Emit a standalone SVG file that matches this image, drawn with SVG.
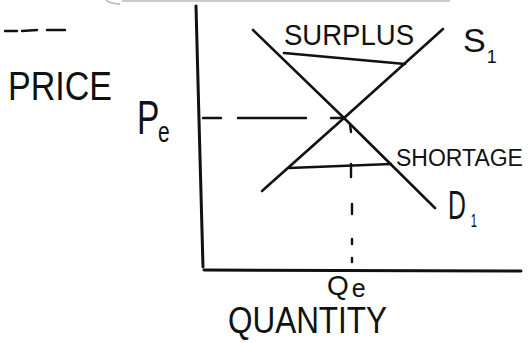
<svg xmlns="http://www.w3.org/2000/svg" width="532" height="343" viewBox="0 0 532 343">
  <style>
    .ln { stroke: #111; stroke-width: 2.6; fill: none; stroke-linecap: round; }
    .ax { stroke: #111; stroke-width: 3; fill: none; stroke-linecap: round; }
    .ds { stroke: #111; stroke-width: 2.4; fill: none; stroke-linecap: round; }
    .faint { stroke: #bbb; stroke-width: 1.5; fill: none; }
    .lbl { font-family: "Liberation Sans", "DejaVu Sans", sans-serif; fill: #111; }
  </style>
  <rect width="532" height="343" fill="#fff"/>
  <path class="faint" d="M120 4 Q108 3 106 0 M122 1 L450 1"/>
  <g id="axes">
    <path class="ax" d="M196 6 L199 120 L203 267"/>
    <path class="ax" d="M204 270 L521 271"/>
  </g>
  <g id="connectors">
    <path class="ln" d="M253 30 L344 118 L435 208"/>
    <path class="ln" d="M443 29 L344 118 L262 191"/>
    <path class="ln" d="M284 53 L405 64"/>
    <path class="ln" d="M289 168 L391 164"/>
    <path class="ds" d="M203 118 L221 118 M238 118 L306 118 M331 118 L342 118"/>
    <path class="ds" d="M350 124 L351 132 M351 164 L351 177 M352 204 L352 214 M352 239 L352 244 M352 258 L352 262"/>
    <path class="ds" d="M5 31 L17 31 M22 31 L37 30 M47 30 L65 30"/>
  </g>
  <g id="surplus">
    <text class="lbl" x="284" y="45" font-size="30" textLength="130" lengthAdjust="spacingAndGlyphs">SURPLUS</text>
  </g>
  <g id="supply">
    <text class="lbl" x="463" y="52" font-size="34">S<tspan dx="1" dy="11" font-size="18">1</tspan></text>
  </g>
  <g id="price">
    <text class="lbl" x="8" y="100" font-size="40" textLength="104" lengthAdjust="spacingAndGlyphs">PRICE</text>
  </g>
  <g id="pe">
    <text class="lbl" transform="translate(137,134) scale(0.7,1)" font-size="48">P<tspan dx="-2" dy="8" font-size="30">e</tspan></text>
  </g>
  <g id="shortage">
    <text class="lbl" x="396" y="166" font-size="23">SHORTAGE</text>
  </g>
  <g id="demand">
    <text class="lbl" transform="translate(448,219) scale(0.62,1)" font-size="40">D<tspan dx="8" dy="8" font-size="18">1</tspan></text>
  </g>
  <g id="qe">
    <text class="lbl" x="327" y="295" font-size="28">Q<tspan dx="3" dy="2" font-size="25">e</tspan></text>
  </g>
  <g id="quantity">
    <text class="lbl" x="228" y="333" font-size="36" textLength="159" lengthAdjust="spacingAndGlyphs">QUANTITY</text>
  </g>
</svg>
